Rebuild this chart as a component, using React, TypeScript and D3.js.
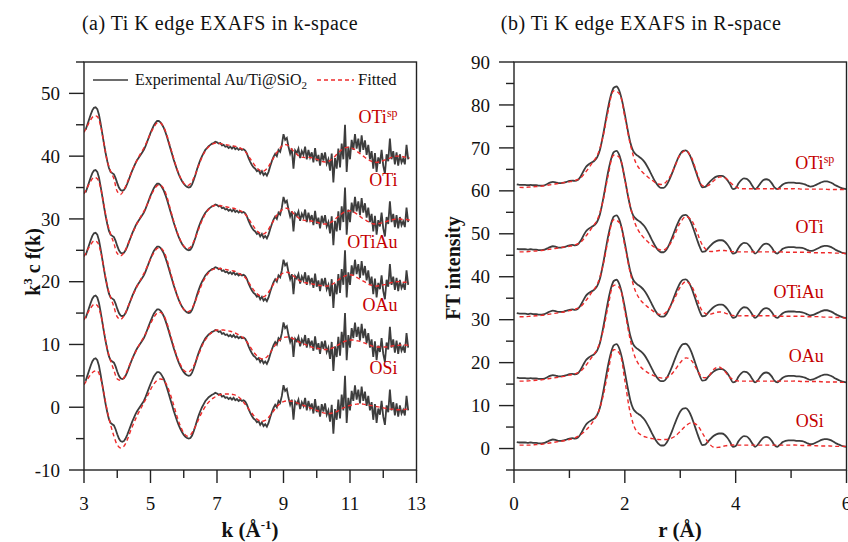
import * as d3 from "d3";

// ---- data -----------------------------------------------------------
// series order top -> bottom
const seriesNames = ["OTi", "OTi", "OTiAu", "OAu", "OSi"];
const seriesSup = ["sp", "", "", "", ""];
const kOffsets = [40, 30, 20, 10, 0];
const rOffsets = [60, 45, 30, 15, 0];

// experimental k^3 chi(k), k = 3.05 + i*0.05
const kExp = [
  4.2, 5.0, 5.8, 6.6, 7.3,
  7.7, 7.8, 7.5, 6.6, 5.2, 3.6, 2.0, 0.5, -0.8, -1.9, -2.5, -2.7, -2.9, -3.5,
  -4.3, -5.0, -5.4, -5.5, -5.4, -5.0, -4.4, -3.7, -3.0, -2.3, -1.7, -1.1, -0.6, -0.2, 0.2, 0.6, 1.0, 1.6, 2.3, 3.0,
  3.7, 4.3, 4.9, 5.3, 5.6, 5.6, 5.4, 5.0, 4.5, 3.8, 3.0, 2.1, 1.2, 0.3, -0.6, -1.4, -2.2, -2.9, -3.5, -4.0,
  -4.4, -4.7, -4.9, -5.0, -4.9, -4.5, -3.8, -3.0, -2.1, -1.3, -0.6, 0.0, 0.5, 1.0, 1.3, 1.6, 1.8, 2.0, 2.1, 2.3,
  2.2, 2.0, 2.1, 1.7, 1.8, 1.5, 1.6, 1.3, 1.5, 1.2, 1.5, 1.1, 1.3, 1.0, 1.2, 1.0, 1.1, 0.9, 0.4, -0.3,
  -0.9, -1.4, -1.8, -2.0, -2.4, -2.2, -2.8, -2.4, -3.0, -2.7, -3.1, -2.5, -1.6, -0.8, -0.1, 0.4, 0.0, 1.0, 0.7, 1.8,
  3.5, 2.6, 2.9, 1.5, 0.4, 1.2, -2.0, 0.9, 0.5, 1.2, -0.3, 0.8, 0.2, 1.5, -0.5, 1.0, -0.2, 0.6, -1.0, 1.3,
  -0.8, 0.2, -1.5, 0.5, -0.7, 0.6, -1.2, -0.5, -2.3, 0.4, -4.2, -0.3, -2.0, 1.2, -1.8, 2.0, -0.5, 5.0, -2.5, 1.5,
  -0.5, 2.6, 1.0, 3.5, 1.2, 2.8, 0.6, 3.3, 1.0, 2.5, 0.2, 1.8, -0.5, 0.8, -2.0, 0.5, -2.5, -0.2, -1.2, 1.0,
  -1.5, -2.8, 0.3, -0.8, 2.8, -0.5, 0.8, -1.3, 0.6, -1.5, 0.3, -1.0, -0.4, -1.3, 1.8, -0.5,
];

// fitted k-space curves, k = 3.0 + i*0.1
const kFitOTisp = [
  3.8, 4.8, 5.8, 6.4, 6.3, 4.8, 2.0, -0.8, -2.4, -3.6,
  -5.6, -6.1, -5.4, -4.2, -2.9, -1.7, -0.6, 0.4, 1.3, 2.4,
  3.6, 4.6, 5.3, 5.3, 4.6, 3.2, 1.4, -0.4, -2.1, -3.4,
  -4.3, -4.7, -4.4, -3.5, -2.2, -0.8, 0.4, 1.2, 1.7, 2.0,
  2.1, 2.0, 1.9, 1.8, 1.7, 1.6, 1.5, 1.3, 1.0, 0.4,
  -0.4, -1.2, -1.9, -2.3, -2.4, -2.0, -1.2, -0.3, 0.6, 1.3,
  1.8, 1.8, 1.4, 0.8, 0.3, -0.1, -0.2, -0.2, -0.2, -0.3,
  -0.5, -0.7, -0.9, -0.9, -0.7, -0.3, 0.3, 0.8, 1.2, 1.4,
  1.4, 1.2, 0.8, 0.4, 0.0, -0.4, -0.7, -0.9, -1.0, -0.9,
  -0.7, -0.5, -0.3, -0.1, 0.0, 0.0, -0.1, -0.2, -0.3,
];
const kFitOTi = [
  4.0, 5.0, 6.0, 6.6, 6.4, 4.9, 2.2, -0.6, -2.4, -3.9,
  -5.5, -5.9, -5.4, -4.3, -3.0, -1.8, -0.7, 0.3, 1.2, 2.3,
  3.5, 4.6, 5.3, 5.4, 4.8, 3.4, 1.5, -0.4, -2.1, -3.4,
  -4.3, -4.7, -4.5, -3.6, -2.3, -0.9, 0.3, 1.2, 1.8, 2.1,
  2.2, 2.1, 2.0, 1.9, 1.8, 1.7, 1.5, 1.3, 1.0, 0.4,
  -0.4, -1.2, -1.9, -2.3, -2.4, -2.0, -1.2, -0.3, 0.6, 1.2,
  1.6, 1.7, 1.4, 0.9, 0.4, 0.0, -0.2, -0.3, -0.3, -0.4,
  -0.5, -0.7, -0.8, -0.8, -0.6, -0.3, 0.2, 0.6, 1.0, 1.2,
  1.3, 1.1, 0.8, 0.4, 0.0, -0.3, -0.6, -0.8, -0.8, -0.7,
  -0.6, -0.4, -0.2, -0.1, 0.0, 0.0, -0.1, -0.1, -0.2,
];
const kFitOTiAu = [
  4.0, 5.0, 5.9, 6.5, 6.3, 4.8, 2.1, -0.7, -2.5, -4.0,
  -5.6, -6.0, -5.5, -4.3, -3.0, -1.8, -0.7, 0.3, 1.3, 2.4,
  3.6, 4.6, 5.3, 5.4, 4.8, 3.4, 1.5, -0.4, -2.1, -3.5,
  -4.4, -4.8, -4.6, -3.7, -2.4, -1.0, 0.2, 1.1, 1.7, 2.0,
  2.1, 2.1, 2.0, 1.9, 1.8, 1.7, 1.5, 1.2, 0.9, 0.3,
  -0.5, -1.3, -1.9, -2.3, -2.4, -2.0, -1.3, -0.4, 0.4, 1.0,
  1.4, 1.5, 1.3, 0.9, 0.5, 0.1, -0.1, -0.2, -0.3, -0.4,
  -0.5, -0.6, -0.7, -0.7, -0.6, -0.3, 0.1, 0.5, 0.8, 1.0,
  1.1, 1.0, 0.7, 0.4, 0.1, -0.2, -0.5, -0.6, -0.7, -0.6,
  -0.5, -0.4, -0.2, -0.1, 0.0, 0.0, -0.1, -0.1, -0.2,
];
const kFitOAu = [
  3.9, 4.9, 5.8, 6.4, 6.2, 4.8, 2.1, -0.7, -2.6, -4.1,
  -5.5, -5.7, -5.3, -4.2, -2.9, -1.8, -0.7, 0.3, 1.2, 2.2,
  3.3, 4.3, 5.0, 5.1, 4.6, 3.3, 1.5, -0.3, -2.0, -3.2,
  -4.1, -4.4, -4.2, -3.4, -2.2, -0.9, 0.3, 1.1, 1.7, 2.1,
  2.3, 2.3, 2.3, 2.2, 2.1, 1.9, 1.7, 1.4, 1.0, 0.4,
  -0.4, -1.2, -1.8, -2.2, -2.3, -2.0, -1.3, -0.5, 0.2, 0.8,
  1.1, 1.2, 1.1, 0.9, 0.6, 0.3, 0.1, -0.1, -0.3, -0.5,
  -0.6, -0.7, -0.8, -0.8, -0.7, -0.5, -0.2, 0.1, 0.4, 0.6,
  0.7, 0.7, 0.6, 0.5, 0.3, 0.1, -0.1, -0.3, -0.4, -0.4,
  -0.4, -0.4, -0.3, -0.2, -0.2, -0.1, -0.1, -0.1, -0.2,
];
const kFitOSi = [
  3.6, 4.4, 5.2, 5.7, 5.8, 4.6, 2.2, -0.6, -2.8, -4.6,
  -6.0, -6.5, -6.2, -5.2, -3.8, -2.5, -1.3, -0.3, 0.7, 1.7,
  2.8, 3.7, 4.3, 4.5, 4.3, 3.4, 2.0, 0.3, -1.5, -3.0,
  -4.1, -4.6, -4.4, -3.6, -2.5, -1.3, -0.3, 0.5, 1.1, 1.5,
  1.8, 2.0, 2.1, 2.1, 2.1, 2.0, 1.8, 1.4, 0.8, 0.1,
  -0.6, -1.3, -1.9, -2.2, -2.2, -1.9, -1.3, -0.6, 0.1, 0.6,
  0.9, 1.0, 1.0, 0.9, 0.7, 0.5, 0.3, 0.1, -0.1, -0.3,
  -0.5, -0.7, -0.9, -1.0, -1.0, -0.9, -0.7, -0.4, -0.1, 0.1,
  0.3, 0.4, 0.5, 0.5, 0.5, 0.4, 0.3, 0.2, 0.1, 0.0,
  -0.1, -0.2, -0.3, -0.3, -0.4, -0.4, -0.4, -0.3, -0.3,
];

// experimental FT magnitude, r = 0.05 + i*0.05
const rExp = [
  1.5, 1.4, 1.4, 1.4, 1.3, 1.4, 1.3, 1.3, 1.2, 1.2, 1.3, 1.6, 1.9, 2.1, 2.0, 1.8, 1.8, 1.9, 2.1, 2.3,
  2.4, 2.3, 2.5, 3.3, 4.5, 5.6, 6.2, 6.6, 7.0, 7.8, 9.5, 12.5, 16.0, 19.5, 22.3, 24.0, 24.3, 23.3, 21.0, 17.8,
  14.3, 11.2, 9.3, 8.5, 8.0, 7.5, 6.8, 5.8, 4.6, 3.3, 2.1, 1.2, 0.7, 0.7, 1.3, 2.5, 4.0, 5.7, 7.3, 8.6,
  9.3, 9.4, 8.8, 7.5, 5.7, 3.8, 2.0, 0.8, 0.9, 1.6, 2.3, 2.9, 3.3, 3.5, 3.5, 3.2, 2.5, 1.5, 0.4, 0.6,
  1.7, 2.5, 2.9, 2.8, 2.2, 1.2, 0.4, 0.9, 1.8, 2.5, 2.7, 2.5, 1.8, 0.8, 0.4, 0.9, 1.5, 1.8, 1.9, 1.9,
  1.9, 1.8, 1.8, 1.7, 1.5, 1.2, 1.0, 1.1, 1.4, 1.7, 2.0, 2.2, 2.2, 2.0, 1.7, 1.3, 1.0, 0.7, 0.5, 0.4,
];

// fitted FT curves, r = 0.1 + i*0.1
const rFitOTisp = [
  0.8, 0.8, 0.9, 1.0, 1.1, 1.3, 1.5, 1.7, 1.9, 2.1,
  2.4, 3.0, 4.5, 6.3, 8.2, 12.3, 18.6, 23.3, 22.6, 17.2,
  10.8, 6.5, 4.6, 3.4, 2.4, 1.6, 1.6, 3.0, 5.6, 8.4,
  9.4, 7.8, 4.2, 1.2, 1.2, 2.3, 3.2, 3.1, 2.0, 0.9,
  0.5, 0.5, 0.5, 0.5, 0.5, 0.5, 0.5, 0.5, 0.5, 0.5,
  0.5, 0.4, 0.4, 0.4, 0.4, 0.4, 0.3, 0.3, 0.3, 0.3,
];
const rFitOTi = [
  0.8, 0.8, 0.9, 1.0, 1.1, 1.3, 1.5, 1.7, 1.9, 2.1,
  2.4, 3.0, 4.5, 6.3, 8.2, 12.3, 18.6, 23.3, 22.8, 17.6,
  11.3, 6.9, 4.7, 3.3, 2.2, 1.4, 1.2, 2.3, 4.8, 7.6,
  9.0, 8.2, 5.4, 2.4, 1.0, 0.9, 1.1, 1.1, 0.9, 0.8,
  0.8, 0.8, 0.8, 0.8, 0.8, 0.8, 0.8, 0.8, 0.7, 0.7,
  0.7, 0.7, 0.7, 0.6, 0.6, 0.6, 0.6, 0.5, 0.5, 0.4,
];
const rFitOTiAu = [
  0.7, 0.7, 0.8, 0.9, 1.0, 1.2, 1.4, 1.6, 1.8, 2.1,
  2.4, 3.0, 4.5, 6.3, 8.2, 12.3, 18.6, 23.3, 22.6, 17.2,
  10.8, 6.4, 4.3, 3.1, 2.1, 1.3, 1.3, 2.6, 5.0, 7.6,
  8.9, 7.9, 5.0, 2.0, 1.2, 1.5, 1.8, 1.6, 1.1, 0.9,
  0.9, 0.9, 0.9, 0.9, 0.9, 0.9, 0.9, 0.8, 0.8, 0.8,
  0.8, 0.8, 0.7, 0.7, 0.7, 0.6, 0.6, 0.5, 0.5, 0.4,
];
const rFitOAu = [
  0.7, 0.7, 0.8, 0.9, 1.0, 1.2, 1.4, 1.6, 1.8, 2.1,
  2.4, 3.0, 4.4, 6.2, 8.1, 12.0, 18.2, 23.0, 22.5, 17.0,
  10.2, 5.8, 3.8, 2.8, 2.1, 1.6, 1.4, 1.8, 3.2, 5.0,
  6.1, 5.5, 3.4, 1.6, 1.7, 3.4, 4.0, 3.0, 1.5, 0.8,
  0.7, 0.7, 0.7, 0.7, 0.7, 0.7, 0.7, 0.7, 0.7, 0.7,
  0.7, 0.6, 0.6, 0.6, 0.6, 0.5, 0.5, 0.5, 0.4, 0.4,
];
const rFitOSi = [
  0.8, 0.8, 0.8, 0.9, 1.0, 1.2, 1.4, 1.6, 1.8, 2.1,
  2.5, 3.2, 4.3, 5.8, 7.8, 11.8, 18.0, 23.0, 22.2, 15.8,
  8.2, 4.3, 3.1, 2.6, 2.3, 2.1, 2.1, 2.2, 2.8, 4.0,
  5.3, 6.0, 5.5, 3.6, 1.5, 0.3, 0.3, 0.6, 0.8, 0.8,
  0.8, 0.8, 0.8, 0.8, 0.8, 0.8, 0.8, 0.8, 0.8, 0.8,
  0.8, 0.7, 0.7, 0.7, 0.6, 0.6, 0.6, 0.5, 0.5, 0.5,
];

const kFits = [kFitOTisp, kFitOTi, kFitOTiAu, kFitOAu, kFitOSi];
const rFits = [rFitOTisp, rFitOTi, rFitOTiAu, rFitOAu, rFitOSi];

// ---- layout / style ---------------------------------------------------
const W = 848;
const H = 542;
const TOP = 62;
const BOTTOM = 470;
const EXP_COLOR = "#3d3d3d";
const FIT_COLOR = "#ee2a2a";
const LABEL_COLOR = "#c40000";
const FONT = "'Liberation Serif', 'Times New Roman', serif";

const xK = d3.scaleLinear().domain([3, 13]).range([84, 416.5]);
const yK = d3.scaleLinear().domain([-10, 55]).range([BOTTOM, TOP]);
const xR = d3.scaleLinear().domain([0, 6]).range([514, 846.5]);
const yR = d3.scaleLinear().domain([-5, 90]).range([BOTTOM, TOP]);

type Pt = [number, number];

const toPts = (vals: number[], x0: number, dx: number, off: number): Pt[] =>
  vals.map((v, i) => [x0 + i * dx, v + off]);

const Axes = ({ x, y, yMajor, yMinor, xMajor, xMinor, xLabels }: any) => {
  const [x0, x1] = x.range();
  return (
    <g stroke="#222" strokeWidth={1.4}>
      <rect x={x0} y={TOP} width={x1 - x0} height={BOTTOM - TOP} fill="none" />
      {yMajor.map((v: number) => (
        <line key={"ym" + v} x1={x0 - 15} x2={x0} y1={y(v)} y2={y(v)} />
      ))}
      {yMinor.map((v: number) => (
        <line key={"yn" + v} x1={x0 - 8} x2={x0} y1={y(v)} y2={y(v)} />
      ))}
      {xMajor.map((v: number) => (
        <line key={"xm" + v} x1={x(v)} x2={x(v)} y1={BOTTOM} y2={BOTTOM + 13} />
      ))}
      {xMinor.map((v: number) => (
        <line key={"xn" + v} x1={x(v)} x2={x(v)} y1={BOTTOM} y2={BOTTOM + 8} />
      ))}
      <g stroke="none" fill="#111" fontFamily={FONT} fontSize={19}>
        {yMajor.map((v: number) => (
          <text key={"yl" + v} x={x0 - 24} y={y(v)} dy="0.35em" textAnchor="end">
            {v}
          </text>
        ))}
        {xLabels.map((v: number) => (
          <text key={"xl" + v} x={x(v)} y={510} textAnchor="middle">
            {v}
          </text>
        ))}
      </g>
    </g>
  );
};

export default function App() {
  const kLine = d3
    .line<Pt>()
    .x((d) => xK(d[0]))
    .y((d) => yK(d[1]));
  const kFitLine = d3
    .line<Pt>()
    .x((d) => xK(d[0]))
    .y((d) => yK(d[1]))
    .curve(d3.curveCatmullRom);
  const rLine = d3
    .line<Pt>()
    .x((d) => xR(d[0]))
    .y((d) => yR(d[1]))
    .curve(d3.curveMonotoneX);
  const rFitLine = d3
    .line<Pt>()
    .x((d) => xR(d[0]))
    .y((d) => yR(d[1]))
    .curve(d3.curveCatmullRom);

  return (
    <svg
      width={W}
      height={H}
      style={{ position: "absolute", left: 0, top: 0, background: "#fff" }}
      fontFamily={FONT}
    >
      <defs>
        <clipPath id="clipK">
          <rect x={84} y={TOP} width={332.5} height={BOTTOM - TOP} />
        </clipPath>
        <clipPath id="clipR">
          <rect x={514} y={TOP} width={332.5} height={BOTTOM - TOP} />
        </clipPath>
      </defs>

      {/* titles */}
      <text x={220} y={30} textAnchor="middle" fontSize={20} letterSpacing={0.5} fill="#111">
        (a) Ti K edge EXAFS in k-space
      </text>
      <text x={641} y={30} textAnchor="middle" fontSize={20} letterSpacing={0.5} fill="#111">
        (b) Ti K edge EXAFS in R-space
      </text>

      {/* ---------- k-space panel ---------- */}
      <g clipPath="url(#clipK)">
        {kOffsets.map((off, i) => (
          <g key={"k" + i}>
            <path d={kLine(toPts(kExp, 3.05, 0.05, off)) || ""} fill="none" stroke={EXP_COLOR} strokeWidth={1.8} />
            <path
              d={kFitLine(toPts(kFits[i], 3.0, 0.1, off)) || ""}
              fill="none"
              stroke={FIT_COLOR}
              strokeWidth={1.4}
              strokeDasharray="4,3"
            />
          </g>
        ))}
      </g>
      <Axes
        x={xK}
        y={yK}
        yMajor={d3.range(-10, 51, 10)}
        yMinor={d3.range(-5, 56, 10)}
        xMajor={d3.range(3, 14, 2)}
        xMinor={d3.range(4, 13, 2)}
        xLabels={d3.range(3, 14, 2)}
      />
      {seriesNames.map((n, i) => (
        <text
          key={"kl" + i}
          x={xK(12.43)}
          y={yK(kOffsets[i] + 5.3)}
          textAnchor="end"
          fontSize={18}
          fill={LABEL_COLOR}
        >
          {n}
          {seriesSup[i] && (
            <tspan fontSize={12} dy={-6}>
              {seriesSup[i]}
            </tspan>
          )}
        </text>
      ))}

      {/* legend */}
      <line x1={93} x2={128} y1={80} y2={80} stroke={EXP_COLOR} strokeWidth={1.6} />
      <text x={135} y={85} fontSize={16} fill="#111">
        Experimental Au/Ti@SiO
        <tspan fontSize={11} dy={4}>
          2
        </tspan>
      </text>
      <line x1={317} x2={354} y1={80} y2={80} stroke={FIT_COLOR} strokeWidth={1.4} strokeDasharray="4,3" />
      <text x={358} y={85} fontSize={16.5} fill="#111">
        Fitted
      </text>

      <text
        transform={`translate(40,262) rotate(-90)`}
        textAnchor="middle"
        fontSize={20}
        fontWeight="bold"
        fill="#111"
      >
        k
        <tspan fontSize={13} dy={-8}>
          3
        </tspan>
        <tspan dy={8}> c f(k)</tspan>
      </text>
      <text x={250} y={537} textAnchor="middle" fontSize={21} fontWeight="bold" fill="#111">
        k (Å
        <tspan fontSize={13} dy={-8}>
          -1
        </tspan>
        <tspan dy={8}>)</tspan>
      </text>

      {/* ---------- R-space panel ---------- */}
      <g clipPath="url(#clipR)">
        {rOffsets.map((off, i) => (
          <g key={"r" + i}>
            <path d={rLine(toPts(rExp, 0.05, 0.05, off)) || ""} fill="none" stroke={EXP_COLOR} strokeWidth={1.8} />
            <path
              d={rFitLine(toPts(rFits[i], 0.1, 0.1, off)) || ""}
              fill="none"
              stroke={FIT_COLOR}
              strokeWidth={1.4}
              strokeDasharray="4,3"
            />
          </g>
        ))}
      </g>
      <Axes
        x={xR}
        y={yR}
        yMajor={d3.range(0, 91, 10)}
        yMinor={d3.range(-5, 86, 10)}
        xMajor={d3.range(0, 7, 2)}
        xMinor={d3.range(1, 6, 2)}
        xLabels={d3.range(0, 7, 2)}
      />
      {seriesNames.map((n, i) => (
        <text
          key={"rl" + i}
          x={xR(i === 0 ? 5.78 : 5.59)}
          y={yR(rOffsets[i] + 5.1)}
          textAnchor="end"
          fontSize={18}
          fill={LABEL_COLOR}
        >
          {n}
          {seriesSup[i] && (
            <tspan fontSize={12} dy={-6}>
              {seriesSup[i]}
            </tspan>
          )}
        </text>
      ))}
      <text
        transform={`translate(460,268) rotate(-90)`}
        textAnchor="middle"
        fontSize={20}
        fontWeight="bold"
        fill="#111"
      >
        FT intensity
      </text>
      <text x={680} y={537} textAnchor="middle" fontSize={21} fontWeight="bold" fill="#111">
        r (Å)
      </text>
    </svg>
  );
}
